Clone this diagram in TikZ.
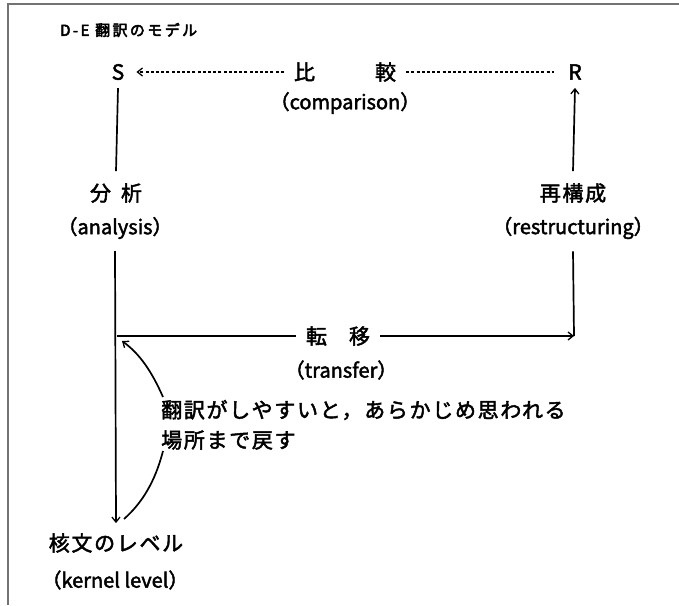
\documentclass[tikz,border=0pt]{standalone}
\usepackage{fontspec}
\setmainfont{Noto Sans CJK JP}
\newfontfamily\medfont{Noto Sans CJK JP}[FakeBold=2.2]
\newfontfamily\jpfont{Noto Sans CJK JP}[FakeBold=2.2,LetterSpace=8]
\newfontfamily\ttlfont{Noto Sans CJK JP}[FakeBold=3.2,LetterSpace=16]
\usetikzlibrary{arrows.meta}
\tikzset{
  lbl/.style={inner sep=0pt, font=\fontsize{20}{22}\selectfont\medfont},
  jlbl/.style={inner sep=0pt, font=\fontsize{21}{23}\selectfont\jpfont},
  line/.style={line width=1.7pt},
  tip/.style={-{Straight Barb[length=5pt,width=8pt,line width=1.3pt]}},
  dashline/.style={line width=1.2pt, dash pattern=on 3pt off 2.2pt},
  frame/.style={line width=2pt, draw=black!55}
}
\begin{document}
\begin{tikzpicture}[x=1pt,y=-1pt]
\useasboundingbox (0,0) rectangle (679,605);
\draw[frame] (8,605) -- (8,4) -- (679,4);
% title
\node[inner sep=0pt, font=\fontsize{15}{17}\selectfont\ttlfont, anchor=west] (title) at (60,30) {D-E 翻訳のモデル};
% corners
\node[lbl, font=\fontsize{21}{23}\selectfont\medfont] (S) at (118,72) {S};
\node[lbl, font=\fontsize{21}{23}\selectfont\medfont] (R) at (575,72) {R};
\node[jlbl, inner xsep=10pt] (hikaku) at (345,72) {比\hspace{60pt}較};
\node[lbl] (comp) at (345,103) {（comparison）};
\node[jlbl, inner ysep=12pt] (bunseki) at (116,193) {分\hspace{10pt}析};
\node[lbl, inner ysep=12pt] (analysis) at (115,228) {（analysis）};
\node[jlbl, inner ysep=12pt] (saikousei) at (573,193) {再構成};
\node[lbl, inner ysep=12pt] (restr) at (573,228) {（restructuring）};
\node[jlbl, inner xsep=10pt] (tenni) at (338,336) {転\hspace{22pt}移};
\node[lbl] (transfer) at (341,370) {（transfer）};
\node[jlbl, anchor=west] (note1) at (161,410) {翻訳がしやすいと，あらかじめ思われる};
\node[jlbl, anchor=west] (note2) at (161,440) {場所まで戻す};
\node[jlbl] (kernel) at (116,543) {核文のレベル};
\node[lbl] (kernelen) at (115,580) {（kernel level）};
\coordinate (junc) at (117,336);
\coordinate (corner) at (574,336);
\coordinate (c1s) at (163,397);
\coordinate (c1e) at (122,341);
\coordinate (c2s) at (163,451);
\coordinate (c2e) at (124,519);
% comparison
\draw[dashline, tip] (hikaku.west) -- ([xshift=12pt]S.east);
\draw[dashline] (hikaku.east) -- ([xshift=-14pt]R.west);
% analysis
\draw[line] ([yshift=-8pt]S.south) -- (bunseki.north);
\draw[line, tip] (analysis.south) -- ([yshift=10pt]kernel.north);
% transfer
\draw[line] (junc) -- (tenni.west);
\draw[line, tip] (tenni.east) -- (corner);
% restructuring
\draw[line] (corner) -- (restr.south);
\draw[line, tip] (saikousei.north) -- ([yshift=-8pt]R.south);
% note curves
\draw[line, tip] (c1s) .. controls (152,372) and (140,354) .. (c1e);
\draw[line] (c2s) .. controls (155,482) and (142,503) .. (c2e);
\end{tikzpicture}
\end{document}
